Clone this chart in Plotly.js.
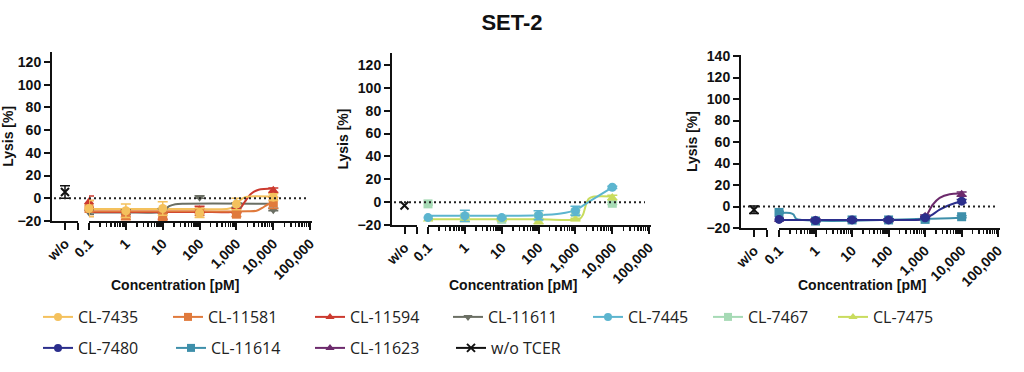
<!DOCTYPE html>
<html>
<head>
<meta charset="utf-8">
<script src="https://cdn.plot.ly/plotly-3.0.1.min.js"></script>
<style>html,body{margin:0;padding:0;background:#fff;}#chart{width:1024px;height:372px;}</style>
</head>
<body>
<div id="chart"></div>
<script>
// ---------- DATA ----------
const conc = [0.1, 1, 10, 100, 1000, 10000];
const tickVals = [0.1, 1, 10, 100, 1000, 10000, 100000];
const tickText = ['0.1', '1', '10', '100', '1,000', '10,000', '100,000'];
const yTicks12 = [-20, 0, 20, 40, 60, 80, 100, 120];
const yTicks14 = [-20, 0, 20, 40, 60, 80, 100, 120, 140];

// Panel 1
const y7435 = [-9, -11, -9, -13, -5, 1];
const e7435 = [7, 6, 6, 4, 5, 3];
const y11581 = [-9, -15, -17, -12, -14, -4];
const e11581 = [7, 4, 4, 3, 2, 5];
const y11594 = [-3, -14, -16, -10, -11, 7];
const e11594 = [5, 3, 3, 3, 2, 2];
const y11611 = [-12, -12, -11, 1, -6, -10];
const e11611 = [2, 2, 2, 1, 2, 1];
const fitX7435 = [0.1, 1, 10, 100, 600, 900, 1200, 1600, 2200, 10000];
const fitY7435 = [-9.5, -9.5, -9.5, -9.5, -9.3, -7, -2.5, 0.5, 1.5, 1.5];
const fitX11581 = [0.1, 100, 2000, 3500, 5000, 7000, 10000];
const fitY11581 = [-11.5, -11.5, -11.5, -11, -8.5, -5.5, -4];
const fitX11594 = [0.1, 100, 800, 1200, 1700, 2500, 4000, 10000];
const fitY11594 = [-12, -12, -11.8, -9.5, -3, 4, 7.5, 8.5];
const fitX11611 = [0.1, 1, 8, 11, 15, 22, 40, 10000];
const fitY11611 = [-12.5, -12.5, -12.3, -10.5, -7, -5.2, -4.8, -4.8];

// Panel 2
const y7445 = [-13.5, -12, -13.5, -11.5, -7.5, 13];
const e7445 = [1, 5, 1, 4, 4, 1];
const y7467 = [-1.5, -13, -15, -13, -9, -1];
const e7467 = [1, 2, 1, 2, 2, 1];
const y7475 = [-15, -15, -15, -17, -15, 4];
const e7475 = [1, 2, 1, 2, 1, 2];
const fitX7445 = [0.1, 10, 100, 400, 1000, 2000, 4000, 10000];
const fitY7445 = [-12, -12, -11.5, -10, -7, -1, 5, 13];
const fitX7475 = [0.1, 100, 1300, 1600, 1900, 2300, 3000, 10000];
const fitY7475 = [-15, -15, -14.8, -11, -3, 3, 4.8, 5];

// Panel 3
const y7480 = [-12, -13, -12.5, -12.5, -10.5, 5];
const e7480 = [1, 1, 1, 1, 1, 1.5];
const y11614 = [-5.5, -13.5, -12.5, -12.5, -12, -9.5];
const e11614 = [1, 1, 1, 1, 1, 1];
const y11623 = [-12, -12.5, -12.5, -12.5, -9, 11.5];
const e11623 = [1, 1, 1, 1, 1, 2];
const fitX7480 = [0.1, 100, 700, 1000, 1500, 2500, 4000, 7000, 10000];
const fitY7480 = [-12.5, -12.5, -12.3, -11.5, -8, -3, 0.5, 3.5, 5];
const fitX11623 = [0.1, 100, 700, 1000, 1600, 2500, 4700, 10000];
const fitY11623 = [-12.5, -12.5, -12.2, -10, 1.5, 8, 11.5, 12];
const fitX11614 = [0.1, 0.2, 0.25, 0.3, 1000, 10000];
const fitY11614 = [-6, -6, -7.5, -11.5, -11.5, -10.5];

// w/o TCER (one per panel)
const woX = [0];
const woY = [5.5, -3, -3];
const woErr = [5.5, 0, 3.5];

// ---------- STYLE ----------
const FONT = 'Liberation Sans, Arial, sans-serif';
const LFONT = 'Open Sans, Noto Sans, sans-serif';
const C = {
  c7435: '#f4c15d', c11581: '#e07a3c', c11594: '#cc3a2f', c11611: '#6b6f64',
  c7445: '#5cb5cf', c7467: '#a6dab5', c7475: '#c9dc5e',
  c7480: '#2b2e8c', c11614: '#3e8faa', c11623: '#6c2a6c'
};

const traces = [];
function fit(x, y, color, xa, ya, shape) {
  traces.push({type: 'scatter', mode: 'lines', x: x, y: y, xaxis: xa, yaxis: ya,
    showlegend: false, hoverinfo: 'skip', cliponaxis: false,
    line: {color: color, width: 2, shape: shape || 'spline', smoothing: 0.8}});
}
function pts(y, err, color, symbol, xa, ya, name) {
  traces.push({type: 'scatter', mode: 'markers', x: conc, y: y, xaxis: xa, yaxis: ya,
    name: name, showlegend: false, cliponaxis: false,
    marker: {color: color, symbol: symbol, size: 9},
    error_y: {type: 'data', array: err, visible: true, color: color, thickness: 1.5, width: 5}});
}
function wo(i, xa, ya) {
  traces.push({type: 'scatter', mode: 'markers', x: woX, y: [woY[i]], xaxis: xa, yaxis: ya,
    showlegend: false, cliponaxis: false,
    marker: {color: '#111', symbol: 'x-thin', size: 8, line: {color: '#111', width: 2}},
    error_y: {type: 'data', array: [woErr[i]], visible: woErr[i] > 0, color: '#111', thickness: 1.5, width: 5}});
}
function leg(name, color, symbol, legendId, xa, ya) {
  traces.push({type: 'scatter', mode: 'lines+markers', x: [null], y: [null], xaxis: xa, yaxis: ya,
    name: name, legend: legendId, showlegend: true,
    line: {color: color, width: 2},
    marker: {color: color, symbol: symbol, size: 8, line: {color: color, width: symbol === 'x-thin' ? 2 : 0}}});
}

// Panel 1 (x: w/o, x2: log, y)
fit(fitX11611, fitY11611, C.c11611, 'x2', 'y');
fit(fitX11594, fitY11594, C.c11594, 'x2', 'y');
fit(fitX11581, fitY11581, C.c11581, 'x2', 'y');
fit(fitX7435, fitY7435, C.c7435, 'x2', 'y');
pts(y11611, e11611, C.c11611, 'triangle-down', 'x2', 'y', 'CL-11611');
pts(y11594, e11594, C.c11594, 'triangle-up', 'x2', 'y', 'CL-11594');
pts(y11581, e11581, C.c11581, 'square', 'x2', 'y', 'CL-11581');
pts(y7435, e7435, C.c7435, 'circle', 'x2', 'y', 'CL-7435');
wo(0, 'x', 'y');

// Panel 2 (x3: w/o, x4: log, y2)
fit(fitX7475, fitY7475, C.c7475, 'x4', 'y2');
fit(fitX7445, fitY7445, C.c7445, 'x4', 'y2');
pts(y7467, e7467, C.c7467, 'square', 'x4', 'y2', 'CL-7467');
pts(y7475, e7475, C.c7475, 'triangle-up', 'x4', 'y2', 'CL-7475');
pts(y7445, e7445, C.c7445, 'circle', 'x4', 'y2', 'CL-7445');
wo(1, 'x3', 'y2');

// Panel 3 (x5: w/o, x6: log, y3)
fit(fitX11614, fitY11614, C.c11614, 'x6', 'y3');
fit(fitX11623, fitY11623, C.c11623, 'x6', 'y3');
fit(fitX7480, fitY7480, C.c7480, 'x6', 'y3');
pts(y11614, e11614, C.c11614, 'square', 'x6', 'y3', 'CL-11614');
pts(y11623, e11623, C.c11623, 'triangle-up', 'x6', 'y3', 'CL-11623');
pts(y7480, e7480, C.c7480, 'circle', 'x6', 'y3', 'CL-7480');
wo(2, 'x5', 'y3');

// Legend entries
leg('CL-7435', C.c7435, 'circle', 'legend', 'x2', 'y');
leg('CL-11581', C.c11581, 'square', 'legend2', 'x2', 'y');
leg('CL-11594', C.c11594, 'triangle-up', 'legend3', 'x2', 'y');
leg('CL-11611', C.c11611, 'triangle-down', 'legend4', 'x2', 'y');
leg('CL-7445', C.c7445, 'circle', 'legend5', 'x4', 'y2');
leg('CL-7467', C.c7467, 'square', 'legend6', 'x4', 'y2');
leg('CL-7475', C.c7475, 'triangle-up', 'legend7', 'x4', 'y2');
leg('CL-7480', C.c7480, 'circle', 'legend8', 'x6', 'y3');
leg('CL-11614', C.c11614, 'square', 'legend9', 'x6', 'y3');
leg('CL-11623', C.c11623, 'triangle-up', 'legend10', 'x6', 'y3');
leg('w/o TCER', '#111', 'x-thin', 'legend11', 'x', 'y');

// ---------- LAYOUT ----------
const W = 1024, H = 372;
const px = v => v / W;
const py = v => 1 - v / H;
const tickFont = {family: FONT, size: 14, color: '#111', weight: 'bold'};

function yAxis(anchor, range, top, bottom, ticks) {
  return {anchor: anchor, range: range, domain: [py(bottom), py(top)], tickvals: ticks,
    showline: true, linewidth: 2, linecolor: '#111', ticks: 'outside', ticklen: 6, tickwidth: 2,
    tickcolor: '#111', showgrid: false, zeroline: false, tickfont: tickFont, automargin: false,
    title: {text: 'Lysis [%]', font: {family: FONT, size: 14, color: '#111', weight: 'bold'}, standoff: 6}};
}
function woAxis(anchor, x0, x1) {
  return {anchor: anchor, domain: [px(x0), px(x1)], range: [-1, 1], tickvals: [0, 1], ticktext: ['w/o', ''],
    tickangle: -45, showline: true, linewidth: 2, linecolor: '#111', ticks: 'outside', ticklen: 7,
    tickwidth: 2, tickcolor: '#111', showgrid: false, zeroline: false, tickfont: tickFont, automargin: false};
}
const minorVals = [];
[0.1, 1, 10, 100, 1000, 10000].forEach(d => { for (let k = 2; k <= 9; k++) minorVals.push(d * k); });
function logAxis(anchor, x0, x1) {
  return {type: 'log', anchor: anchor, domain: [px(x0), px(x1)], range: [-1, 5.05],
    tickvals: tickVals, ticktext: tickText, tickangle: -45, showline: true, linewidth: 2, linecolor: '#111',
    ticks: 'outside', ticklen: 7, tickwidth: 2, tickcolor: '#111', showgrid: false, zeroline: false,
    tickfont: tickFont, automargin: false,
    minor: {tickvals: minorVals, ticks: 'outside', ticklen: 4, tickwidth: 1.5, tickcolor: '#111', showgrid: false}};
}
function zeroLine(yref, x0, x1) {
  return {type: 'line', xref: 'paper', yref: yref, x0: px(x0), x1: px(x1), y0: 0, y1: 0,
    line: {color: '#222', width: 2, dash: '2px,3px'}};
}
function xTitle(xc) {
  return {text: 'Concentration [pM]', xref: 'paper', yref: 'paper', x: px(xc), y: py(285),
    xanchor: 'center', yanchor: 'middle', showarrow: false,
    font: {family: FONT, size: 14, color: '#111', weight: 'bold'}};
}
function legendBox(mx, my) {
  return {x: px(mx - 20), y: py(my), xanchor: 'left', yanchor: 'middle', orientation: 'h',
    bgcolor: 'rgba(0,0,0,0)', borderwidth: 0, font: {family: LFONT, size: 16, color: '#222'}};
}

const layout = {
  width: W, height: H, margin: {l: 0, r: 0, t: 0, b: 0}, paper_bgcolor: '#fff', plot_bgcolor: 'rgba(0,0,0,0)',
  showlegend: true,
  title: {text: 'SET-2', x: 0.5, xanchor: 'center', y: py(22), yanchor: 'middle',
    font: {family: FONT, size: 22, color: '#111', weight: 'bold'}},
  xaxis: woAxis('y', 52, 78),
  xaxis2: logAxis('y', 89, 312),
  yaxis: yAxis('x', [-20, 129], 51.7, 221, yTicks12),
  xaxis3: woAxis('y2', 392, 417),
  xaxis4: logAxis('y2', 428, 651),
  yaxis2: yAxis('x3', [-20, 130.5], 53, 225, yTicks12),
  xaxis5: woAxis('y3', 741, 767),
  xaxis6: logAxis('y3', 779, 1000),
  yaxis3: yAxis('x5', [-20, 141], 55, 228, yTicks14),
  shapes: [zeroLine('y', 54, 307), zeroLine('y2', 394, 645), zeroLine('y3', 743, 995)],
  annotations: [xTitle(175), xTitle(513), xTitle(862)],
  legend: legendBox(58, 317),
  legend2: legendBox(188, 317),
  legend3: legendBox(330, 317),
  legend4: legendBox(468, 317),
  legend5: legendBox(608, 317),
  legend6: legendBox(728, 317),
  legend7: legendBox(853, 317),
  legend8: legendBox(58, 348),
  legend9: legendBox(191, 348),
  legend10: legendBox(330, 348),
  legend11: legendBox(471, 348)
};

Plotly.newPlot('chart', traces, layout, {displayModeBar: false, responsive: false, staticPlot: true});
</script>
</body>
</html>
